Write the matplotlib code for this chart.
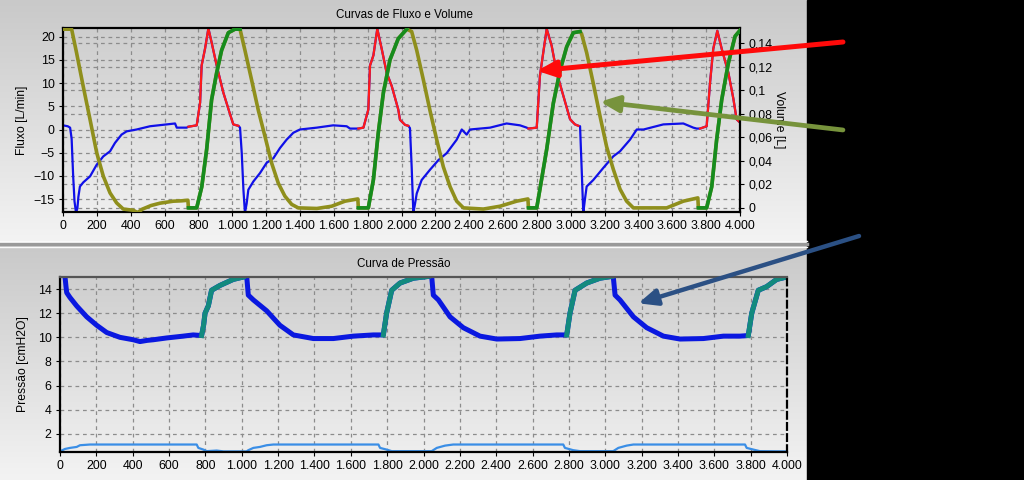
import numpy as np
import matplotlib
matplotlib.use("Agg")
import matplotlib.pyplot as plt
from matplotlib.colors import LinearSegmentedColormap
from matplotlib.patches import Rectangle
from matplotlib.ticker import FuncFormatter, MultipleLocator, FixedLocator

plt.rcParams['font.family'] = ['Liberation Sans', 'DejaVu Sans']

# ---- flow [L/min] (blue = expiration, red = inspiration)
flow_t = np.array([0, 28, 42, 51, 60, 68, 77, 85, 91, 100, 120, 160, 199, 238, 278, 307, 346, 376, 435, 514,
                   613, 662, 672, 731, 741, 790, 810, 819, 839, 859, 878, 908, 947, 987, 1006, 1026, 1036,
                   1046, 1056, 1066, 1075, 1085, 1095, 1125, 1164, 1203, 1243, 1282, 1321, 1361, 1400, 1499,
                   1597, 1676, 1696, 1745, 1775, 1804, 1814, 1834, 1857, 1883, 1912, 1942, 1981, 1991, 2021,
                   2040, 2050, 2060, 2070, 2080, 2090, 2119, 2168, 2218, 2267, 2326, 2356, 2385, 2405, 2523,
                   2621, 2700, 2740, 2750, 2799, 2818, 2838, 2858, 2887, 2917, 2956, 2996, 3025, 3045, 3055,
                   3065, 3074, 3084, 3094, 3133, 3192, 3251, 3291, 3350, 3390, 3430, 3547, 3665, 3724, 3744,
                   3764, 3803, 3823, 3842, 3866, 3892, 3931, 3961, 3980, 4000])
flow_v = np.array([0.9, 0.7, 0.4, -2, -10, -15.5, -18, -17, -14.5, -12.3, -11.4, -10.1, -7.6, -5.8, -4.7, -2.9,
                   -1.1, -0.4, 0, 0.7, 1.1, 1.3, 0.4, 0.4, 0.6, 0.9, 5.8, 13.8, 17.4, 21.8, 18.8, 13.8, 8.0,
                   3.3, 1.1, 0.9, 0.8, 0.4, -5, -13, -18, -16, -13, -11.2, -9.4, -7.2, -6.2, -4.0, -2.2, -0.7,
                   0, 0.4, 0.9, 0.7, 0.2, 0.2, 0.4, 4.3, 13.8, 16.0, 21.7, 17.4, 12.3, 9.4, 4.3, 2.1, 1.0, 0.8,
                   0.3, -8, -18, -16, -13.8, -10.9, -8.7, -6.6, -5.1, -2.2, 0, -1.1, 0, 0.4, 1.3, 0.9, 0.4,
                   0.2, 0.4, 11.6, 16.7, 21.7, 18.1, 12.3, 7.3, 2.2, 1.1, 0.8, 0.7, -9, -18, -15, -12.3, -10.9,
                   -8.3, -5.8, -4.7, -2.2, 0, 0, 1.1, 1.3, 0.4, 0.2, 0.2, 0.7, 10.1, 17.4, 21.3, 17.4, 12.3,
                   6.6, 2.2, 1.5])
flow_insp = [(741, 1036), (1745, 2040), (2750, 3045), (3764, 4000)]

# ---- volume [L] (olive = expiration, green = inspiration)
vol_t = np.array([0, 51, 80, 120, 160, 199, 238, 278, 317, 356, 415, 440, 470, 520, 573, 652, 700, 738, 741,
                  790, 820, 849, 878, 908, 937, 977, 1016, 1046, 1075, 1114, 1154, 1193, 1233, 1272, 1311,
                  1351, 1390, 1500, 1587, 1666, 1742, 1745, 1804, 1834, 1863, 1893, 1932, 1981, 2031, 2060,
                  2090, 2129, 2168, 2208, 2247, 2287, 2326, 2366, 2484, 2582, 2680, 2747, 2750, 2799, 2818,
                  2858, 2897, 2937, 2976, 3015, 3055, 3064, 3094, 3133, 3173, 3212, 3251, 3291, 3330, 3370,
                  3567, 3665, 3751, 3754, 3803, 3833, 3862, 3892, 3931, 3971, 4000])
vol_v = np.array([0.152, 0.152, 0.132, 0.103, 0.075, 0.047, 0.027, 0.0127, 0.0042, -0.001, -0.002, -0.004,
                  -0.001, 0.002, 0.004, 0.0057, 0.006, 0.0065, 0, 0, 0.018, 0.05, 0.092, 0.115, 0.134, 0.149,
                  0.152, 0.152, 0.134, 0.109, 0.083, 0.061, 0.038, 0.021, 0.010, 0.003, 0.0, -0.0005, 0.0014,
                  0.0057, 0.0076, 0, 0, 0.024, 0.064, 0.098, 0.126, 0.144, 0.152, 0.150, 0.134, 0.109, 0.083,
                  0.058, 0.035, 0.018, 0.0057, 0, -0.001, 0.0014, 0.0057, 0.0076, 0, 0, 0.016, 0.05, 0.089,
                  0.117, 0.137, 0.149, 0.150, 0.148, 0.132, 0.106, 0.078, 0.052, 0.033, 0.016, 0.0057, 0, 0,
                  0.0057, 0.0085, 0, 0, 0.018, 0.058, 0.092, 0.123, 0.146, 0.151])
vol_insp = [(741, 1046), (1745, 2050), (2750, 3060), (3754, 4000)]

# ---- pressure [cmH2O] (blue = expiration, teal = inspiration)
pres_t = np.array([0, 27, 33, 37, 55, 92, 147, 202, 257, 330, 403, 440, 480, 513, 587, 678, 733, 779, 790,
                   798, 816, 834, 880, 953, 1008, 1027, 1036, 1064, 1137, 1210, 1284, 1394, 1504, 1614, 1724,
                   1779, 1797, 1825, 1871, 1944, 2027, 2045, 2054, 2082, 2146, 2219, 2311, 2403, 2531, 2641,
                   2733, 2788, 2806, 2834, 2898, 2971, 3035, 3044, 3054, 3081, 3155, 3228, 3320, 3411, 3540,
                   3650, 3741, 3787, 3806, 3842, 3888, 3943, 3998])
pres_v = np.array([15.2, 15.1, 14.2, 13.7, 13.3, 12.6, 11.7, 11.0, 10.4, 10.0, 9.8, 9.65, 9.75, 9.8, 9.95,
                   10.1, 10.2, 10.15, 11.0, 12.0, 12.6, 13.9, 14.3, 14.8, 15.0, 15.1, 13.5, 13.1, 12.2, 11.0,
                   10.2, 9.9, 9.9, 10.1, 10.2, 10.2, 12.0, 13.9, 14.5, 14.9, 15.05, 15.05, 13.5, 13.1, 11.7,
                   10.8, 10.1, 9.86, 9.9, 10.1, 10.2, 10.2, 12.0, 13.9, 14.5, 14.9, 15.05, 15.05, 13.5, 13.1,
                   11.7, 10.8, 10.1, 9.86, 9.9, 10.1, 10.1, 10.15, 12.0, 13.9, 14.2, 14.8, 15.0])
pres_insp = [(735, 1010), (1730, 2035), (2735, 3040), (3745, 4000)]

# ---- second pressure trace near the bottom
base_t = np.array([0, 27, 55, 92, 110, 165, 752, 761, 789, 807, 862, 900, 1027, 1036, 1064, 1100, 1137, 1174,
                   1752, 1761, 1797, 1825, 2045, 2073, 2119, 2164, 2769, 2778, 2824, 2861, 3044, 3072, 3118,
                   3155, 3769, 3778, 3815, 3851, 4000])
base_v = np.array([0.55, 0.75, 0.84, 0.92, 1.06, 1.12, 1.12, 0.84, 0.7, 0.57, 0.62, 0.55, 0.55, 0.65, 0.84,
                   0.92, 1.06, 1.12, 1.12, 0.84, 0.7, 0.57, 0.57, 0.84, 1.03, 1.12, 1.12, 0.84, 0.65, 0.57,
                   0.57, 0.84, 1.03, 1.12, 1.12, 0.84, 0.7, 0.57, 0.55])


def ms_fmt(x, pos):
    return f"{int(round(x)):,}".replace(",", ".")


def vol_fmt(x, pos):
    s = f"{x:.2f}".rstrip("0").rstrip(".")
    return s.replace(".", ",")


def plot_phases(ax, t, y, spans, c_exp, c_insp, lw):
    ax.plot(t, y, color=c_exp, lw=lw, solid_joinstyle='round')
    for a, b in spans:
        m = (t >= a) & (t <= b)
        ax.plot(t[m], y[m], color=c_insp, lw=lw, solid_joinstyle='round')


def style_axes(ax):
    ax.set_facecolor('none')
    ax.set_xlim(0, 4000)
    ax.xaxis.set_major_locator(MultipleLocator(200))
    ax.xaxis.set_major_formatter(FuncFormatter(ms_fmt))
    ax.tick_params(labelsize=8.9, length=3, width=0.8, pad=3)
    ax.grid(True, which='both', color='#8c8c8c', linestyle=(0, (3, 3)), lw=0.9)
    for s in ax.spines.values():
        s.set_color('black')
        s.set_linewidth(1.6)


fig = plt.figure(figsize=(10.24, 4.8), dpi=100)

# background (gray gradient panels + black strip)
bg = fig.add_axes([0, 0, 1, 1], zorder=-10)
grad = np.linspace(0, 1, 256)[:, None]
cmap = LinearSegmentedColormap.from_list('panel', ['#c9c9c9', '#f3f3f3'])
bg.imshow(grad, extent=(0, 807, 241, 0), cmap=cmap, aspect='auto')
bg.imshow(grad, extent=(0, 807, 480, 246), cmap=cmap, aspect='auto')
bg.add_patch(Rectangle((807, 0), 217, 480, color='black'))
bg.plot([0, 807], [243.5, 243.5], color='#9a9a9a', lw=2.5)
bg.plot([0, 807], [240.5, 240.5], color='#fafafa', lw=1)
bg.plot([0, 807], [246.5, 246.5], color='#fafafa', lw=1)
bg.set_xlim(0, 1024)
bg.set_ylim(480, 0)
bg.axis('off')

# ---- top: flow and volume
ax1 = fig.add_axes([63 / 1024, 1 - 212 / 480, 677 / 1024, 184 / 480])
ax2 = ax1.twinx()
style_axes(ax1)
ax1.set_ylim(-17.8, 21.9)
ax1.yaxis.set_major_locator(MultipleLocator(5))
ax2.set_ylim(-0.0035, 0.153)
vol_ticks = np.arange(0, 0.141, 0.02)
ax2.yaxis.set_major_locator(FixedLocator(vol_ticks))
ax2.yaxis.set_major_formatter(FuncFormatter(vol_fmt))
ax2.tick_params(labelsize=8.9, length=3, width=0.8, pad=3)
for s in ax2.spines.values():
    s.set_visible(False)
# right-axis grid lines drawn on the primary axes, below the curves
lo, hi = ax1.get_ylim()
vlo, vhi = ax2.get_ylim()
ax1.yaxis.set_minor_locator(FixedLocator(lo + (vol_ticks - vlo) / (vhi - vlo) * (hi - lo)))
ax1.tick_params(axis='y', which='minor', length=0)
ax1.set_axisbelow(True)

plot_phases(ax1, flow_t, flow_v, flow_insp, '#1010e8', '#ff1a1a', 1.6)
plot_phases(ax2, vol_t, vol_v, vol_insp, '#8f8f1c', '#168c1e', 2.6)

ax1.set_ylabel('Fluxo [L/min]', fontsize=8.7, labelpad=4)
ax2.set_ylabel('Volume [L]', fontsize=8.7, rotation=270, labelpad=9)
fig.text(404 / 1024, 1 - 15 / 480, 'Curvas de Fluxo e Volume', fontsize=8.4, ha='center', va='center')

# ---- bottom: pressure
ax3 = fig.add_axes([60 / 1024, 1 - 452 / 480, 727 / 1024, 175 / 480])
style_axes(ax3)
ax3.grid(True, which='major', color='#8c8c8c', linestyle=(0, (3, 3)), lw=0.9)
ax3.set_ylim(0.5, 15)
ax3.yaxis.set_major_locator(FixedLocator(np.arange(2, 15, 2)))
ax3.set_axisbelow(True)
ax3.spines['top'].set_color('#555555')
ax3.spines['right'].set_linestyle((0, (3, 2)))
plot_phases(ax3, pres_t, pres_v, pres_insp, '#0a18e0', '#138a7e', 3.6)
ax3.plot(base_t, base_v, color='#3a8ee6', lw=1.6)
ax3.set_ylabel('Pressão [cmH2O]', fontsize=8.7, labelpad=6)
fig.text(404 / 1024, 1 - 264 / 480, 'Curva de Pressão', fontsize=8.4, ha='center', va='center')

# ---- arrows
ov = fig.add_axes([0, 0, 1, 1], zorder=20)
ov.axis('off')
arrows = [
    ((2801, 12.66), ax1, (0.8232, 0.9125), '#ff0a0a', 3.6),
    ((3173, 0.0903), ax2, (0.8232, 0.7292), '#77933c', 3.4),
    ((3182, 12.82), ax3, (0.8389, 0.5083), '#2b5084', 3.2),
]
for xy, ax, tail, col, lw in arrows:
    ov.annotate('', xy=xy, xycoords=ax.transData, xytext=tail, textcoords='figure fraction',
                annotation_clip=False,
                arrowprops=dict(arrowstyle='-|>,head_length=0.8,head_width=0.35', color=col, lw=lw,
                                mutation_scale=14, shrinkA=0, shrinkB=0))

fig.savefig('out.png', dpi=100)
